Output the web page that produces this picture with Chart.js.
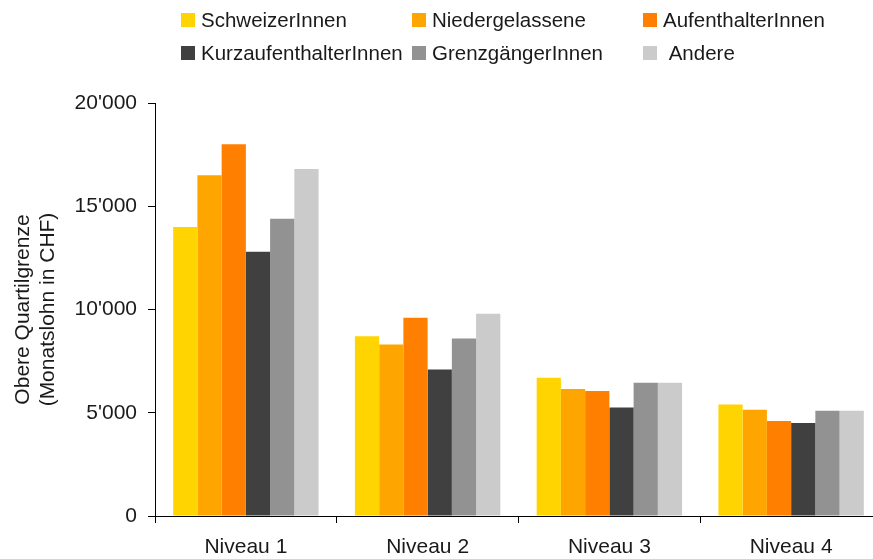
<!DOCTYPE html>
<html>
<head>
<meta charset="utf-8">
<script src="https://cdn.jsdelivr.net/npm/chart.js@4/dist/chart.umd.min.js"></script>
<style>
  html, body { margin: 0; padding: 0; background: #fff; overflow: hidden; }
  canvas { display: block; }
</style>
</head>
<body>
<canvas id="chart" width="882" height="559"></canvas>
<script>
// Upper quartile of monthly wage (CHF) by skill level and residence status
const categories = ['Niveau 1', 'Niveau 2', 'Niveau 3', 'Niveau 4'];
const seriesNames = ['SchweizerInnen', 'Niedergelassene', 'AufenthalterInnen',
                     'KurzaufenthalterInnen', 'GrenzgängerInnen', ' Andere'];
const schweizer       = [14000, 8700, 6700, 5400];
const niedergelassene = [16500, 8300, 6150, 5150];
const aufenthalter    = [18000, 9600, 6050, 4600];
const kurzaufenthalt  = [12800, 7100, 5250, 4500];
const grenzgaenger    = [14400, 8600, 6450, 5100];
const andere          = [16800, 9800, 6450, 5100];
const yTicks = [0, 5000, 10000, 15000, 20000];

const seriesValues = [schweizer, niedergelassene, aufenthalter, kurzaufenthalt, grenzgaenger, andere];
const seriesColors = ['#FFD400', '#FFA500', '#FF7F00', '#404040', '#929292', '#CBCBCB'];

const FONT = '"Liberation Sans", Arial, sans-serif';
const TEXT = '#1a1a1a';

function swissNumber(v) {
  return String(v).replace(/\B(?=(\d{3})+(?!\d))/g, "'");
}

// Legend laid out as a 3 x 2 grid above the plot
const gridLegend = {
  id: 'gridLegend',
  afterDraw(chart) {
    const ctx = chart.ctx;
    const colX = [181, 412, 643];
    const rowY = [20, 53];
    ctx.save();
    ctx.font = '20.5px ' + FONT;
    ctx.textBaseline = 'middle';
    ctx.textAlign = 'left';
    chart.data.datasets.forEach((ds, i) => {
      const x = colX[i % 3];
      const y = rowY[Math.floor(i / 3)];
      ctx.fillStyle = ds.backgroundColor;
      ctx.fillRect(x, y - 7, 14, 14);
      ctx.fillStyle = TEXT;
      ctx.fillText(ds.label, x + 20, y + 1);
    });
    ctx.restore();
  }
};

new Chart(document.getElementById('chart'), {
  type: 'bar',
  data: {
    labels: categories,
    datasets: seriesNames.map((name, i) => ({
      label: name,
      data: seriesValues[i],
      backgroundColor: seriesColors[i],
      borderWidth: 0,
      categoryPercentage: 0.8,
      barPercentage: 1.0
    }))
  },
  options: {
    responsive: false,
    animation: false,
    layout: { padding: { top: 103, right: 0, left: 0, bottom: 0 } },
    plugins: {
      legend: { display: false },
      tooltip: { enabled: false }
    },
    scales: {
      x: {
        afterFit: s => { s.height = 43; },
        grid: {
          offset: true,
          drawOnChartArea: false,
          drawTicks: true,
          tickLength: 7,
          color: '#000',
          lineWidth: 1
        },
        border: { display: true, color: '#000', width: 1 },
        ticks: {
          color: TEXT,
          padding: 12,
          font: { family: FONT, size: 21 }
        }
      },
      y: {
        min: 0,
        max: 20000,
        afterFit: s => { s.width = 155; },
        afterBuildTicks: s => { s.ticks = yTicks.map(v => ({ value: v })); },
        grid: {
          drawOnChartArea: false,
          drawTicks: true,
          tickLength: 7,
          color: '#000',
          lineWidth: 1
        },
        border: { display: true, color: '#000', width: 1 },
        ticks: {
          color: TEXT,
          padding: 11,
          font: { family: FONT, size: 21 },
          callback: v => swissNumber(v)
        },
        title: {
          display: true,
          text: ['Obere Quartilgrenze', '(Monatslohn in CHF)'],
          color: TEXT,
          font: { family: FONT, size: 21, lineHeight: 1.22 },
          padding: { top: 10, bottom: 0 }
        }
      }
    }
  },
  plugins: [gridLegend]
});
</script>
</body>
</html>
